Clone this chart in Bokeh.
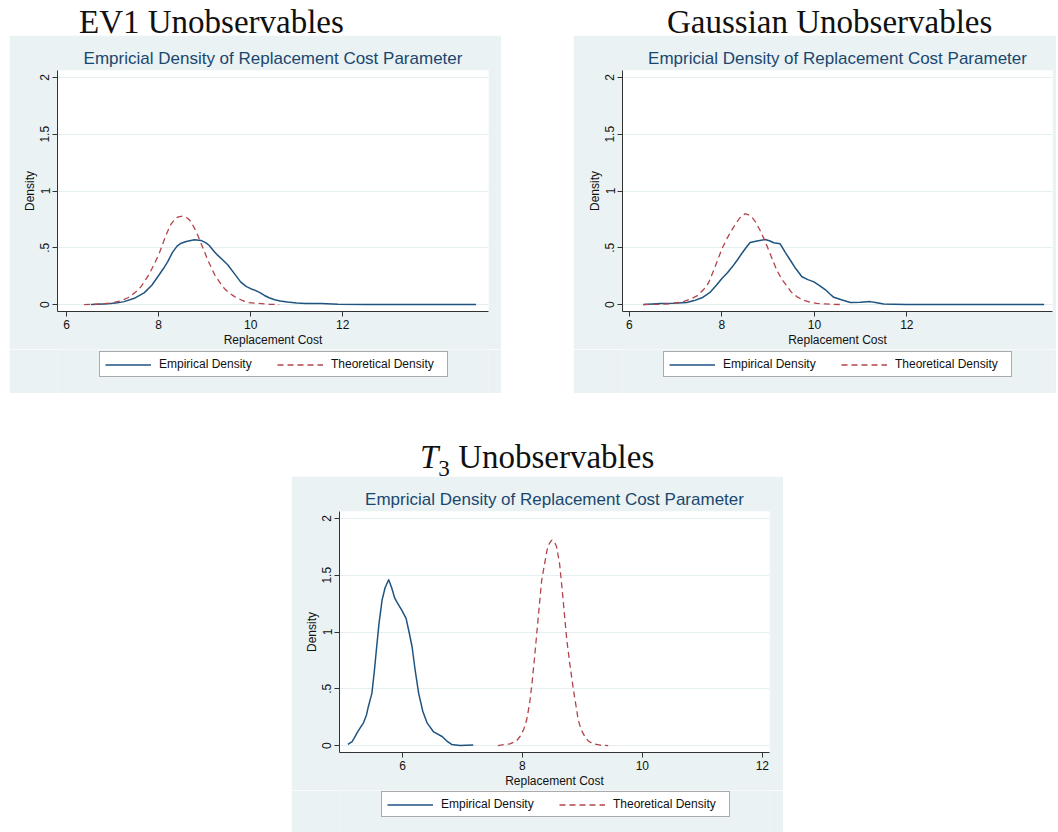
from bokeh.plotting import figure
from bokeh.layouts import column, row
from bokeh.models import Div, Spacer, FixedTicker, Legend, LegendItem, Range1d
from bokeh.embed import file_html
from bokeh.resources import INLINE

# ---- EV1 unobservables ----
ev1_emp_x = [6.53, 6.8, 6.96, 7.1, 7.25, 7.47, 7.69, 7.85, 7.98, 8.1, 8.2, 8.3, 8.4, 8.49,
             8.6, 8.7, 8.78, 8.92, 9.02, 9.1, 9.2, 9.28, 9.4, 9.5, 9.65, 9.78, 9.9, 10.0,
             10.1, 10.2, 10.3, 10.4, 10.52, 10.64, 10.8, 11.0, 11.2, 11.53, 11.9, 12.5, 13.5, 14.9]
ev1_emp_y = [0.0, 0.006, 0.01, 0.015, 0.026, 0.055, 0.105, 0.17, 0.245, 0.315, 0.38, 0.46, 0.515, 0.54,
             0.555, 0.565, 0.57, 0.565, 0.545, 0.52, 0.47, 0.435, 0.39, 0.35, 0.27, 0.2, 0.16, 0.14,
             0.125, 0.105, 0.08, 0.06, 0.043, 0.032, 0.022, 0.014, 0.01, 0.009, 0.003, 0.001, 0.0, 0.0]
ev1_th_x = [6.38, 6.7, 6.96, 7.15, 7.33, 7.5, 7.62, 7.78, 7.91, 8.02, 8.12, 8.2, 8.27, 8.35, 8.41,
            8.52, 8.63, 8.7, 8.78, 8.85, 8.92, 9.0, 9.07, 9.15, 9.22, 9.32, 9.43, 9.54, 9.65, 9.8,
            9.94, 10.1, 10.23, 10.4, 10.62]
ev1_th_y = [0.0, 0.004, 0.012, 0.03, 0.06, 0.11, 0.16, 0.26, 0.36, 0.46, 0.57, 0.65, 0.71, 0.75, 0.77,
            0.78, 0.76, 0.73, 0.67, 0.61, 0.54, 0.46, 0.39, 0.32, 0.26, 0.2, 0.14, 0.1, 0.07, 0.04,
            0.018, 0.012, 0.008, 0.003, 0.0]

# ---- Gaussian unobservables ----
gau_emp_x = [6.3, 6.5, 6.66, 6.95, 7.24, 7.4, 7.57, 7.75, 7.88, 8.0, 8.12, 8.22, 8.33, 8.43, 8.52,
             8.61, 8.76, 8.94, 9.04, 9.12, 9.26, 9.37, 9.48, 9.6, 9.73, 9.86, 9.99, 10.12, 10.24,
             10.33, 10.42, 10.6, 10.78, 11.0, 11.21, 11.35, 11.5, 11.7, 12.0, 14.97]
gau_emp_y = [0.0, 0.005, 0.01, 0.012, 0.018, 0.035, 0.06, 0.11, 0.17, 0.23, 0.28, 0.33, 0.39, 0.45, 0.5,
             0.547, 0.56, 0.573, 0.56, 0.544, 0.535, 0.46, 0.39, 0.315, 0.245, 0.22, 0.2, 0.165, 0.13,
             0.095, 0.064, 0.04, 0.018, 0.02, 0.026, 0.016, 0.006, 0.003, 0.0, 0.0]
gau_th_x = [6.3, 6.6, 6.88, 7.17, 7.3, 7.46, 7.6, 7.71, 7.85, 8.0, 8.12, 8.25, 8.38, 8.5, 8.58, 8.65,
            8.74, 8.83, 8.92, 9.01, 9.1, 9.19, 9.3, 9.41, 9.5, 9.62, 9.75, 9.91, 10.05, 10.2, 10.4, 10.63]
gau_th_y = [0.0, 0.002, 0.006, 0.026, 0.045, 0.076, 0.13, 0.19, 0.33, 0.49, 0.59, 0.68, 0.76, 0.80, 0.79,
            0.77, 0.72, 0.65, 0.57, 0.48, 0.39, 0.30, 0.22, 0.16, 0.11, 0.07, 0.04, 0.02, 0.01, 0.006,
            0.002, 0.0]

# ---- T3 unobservables ----
t3_emp_x = [5.09, 5.16, 5.2, 5.24, 5.3, 5.35, 5.4, 5.43, 5.46, 5.49, 5.53, 5.57, 5.61, 5.66, 5.71,
            5.77, 5.82, 5.87, 5.91, 5.99, 6.06, 6.11, 6.16, 6.21, 6.27, 6.34, 6.41, 6.52, 6.66,
            6.74, 6.82, 6.96, 7.18]
t3_emp_y = [0.01, 0.035, 0.07, 0.11, 0.16, 0.2, 0.27, 0.34, 0.4, 0.46, 0.65, 0.87, 1.08, 1.28, 1.39,
            1.46, 1.39, 1.3, 1.26, 1.19, 1.12, 1.0, 0.87, 0.67, 0.46, 0.3, 0.2, 0.12, 0.08,
            0.04, 0.01, 0.0, 0.005]
t3_th_x = [7.59, 7.79, 7.9, 7.96, 8.02, 8.07, 8.12, 8.16, 8.2, 8.24, 8.28, 8.32, 8.37, 8.41, 8.45,
           8.49, 8.53, 8.57, 8.62, 8.66, 8.7, 8.74, 8.8, 8.86, 8.9, 8.93, 8.98, 9.04, 9.1, 9.18,
           9.3, 9.43]
t3_th_y = [0.0, 0.015, 0.04, 0.08, 0.14, 0.225, 0.37, 0.55, 0.76, 0.99, 1.22, 1.45, 1.6, 1.72, 1.78,
           1.81, 1.8, 1.75, 1.6, 1.39, 1.16, 0.93, 0.68, 0.46, 0.33, 0.225, 0.14, 0.08, 0.04, 0.015,
           0.003, 0.0]

x_ticks = [6, 8, 10, 12]
y_ticks = [0, 0.5, 1, 1.5, 2]
y_tick_labels = ["0", ".5", "1", "1.5", "2"]

chart_title = "Empricial Density of Replacement Cost Parameter"
x_label = "Replacement Cost"
y_label = "Density"
series_names = ["Empirical Density", "Theoretical Density"]

BG = "#eaf2f3"
GRID = "#e6eff0"
NAVY = "#1f5380"
MAROON = "#b3434a"
AXIS = "#333333"
TITLE_BLUE = "#1a476f"
SANS = "Liberation Sans"
SERIF = "Liberation Serif"
EMP_STYLE = dict(line_color=NAVY, line_width=1.5, line_join="round")
TH_STYLE = dict(line_color=MAROON, line_width=1.3, line_dash="6 4")


def density_chart(emp_x, emp_y, th_x, th_y, x_lo, x_hi, width, height,
                  left, right, top, bottom):
    p = figure(width=width, height=height, output_backend="svg", toolbar_location=None,
               x_range=Range1d(x_lo, x_hi), y_range=Range1d(-0.061, 2.061),
               min_border_left=left, min_border_right=right,
               min_border_top=top, min_border_bottom=bottom,
               border_fill_color=BG, background_fill_color="white",
               outline_line_color=None, margin=0)
    p.title.text = chart_title
    p.title.align = "center"
    p.title.text_font = SANS
    p.title.text_font_size = "17px"
    p.title.text_font_style = "normal"
    p.title.text_color = TITLE_BLUE
    p.title.standoff = 5

    p.xgrid.visible = False
    p.ygrid.grid_line_color = GRID
    p.ygrid.grid_line_width = 1

    for ax in (p.xaxis[0], p.yaxis[0]):
        ax.axis_line_color = AXIS
        ax.major_tick_line_color = AXIS
        ax.minor_tick_line_color = None
        ax.major_tick_out = 5
        ax.major_tick_in = 0
        ax.major_label_text_font = SANS
        ax.major_label_text_font_size = "12px"
        ax.major_label_text_color = "#111111"
        ax.axis_label_text_font = SANS
        ax.axis_label_text_font_size = "12px"
        ax.axis_label_text_font_style = "normal"
        ax.axis_label_text_color = "#111111"

    p.xaxis[0].ticker = FixedTicker(ticks=x_ticks)
    p.xaxis[0].axis_label = x_label
    p.xaxis[0].major_label_standoff = 3
    p.xaxis[0].axis_label_standoff = 1

    p.yaxis[0].ticker = FixedTicker(ticks=y_ticks)
    p.yaxis[0].major_label_overrides = dict(zip(y_ticks, y_tick_labels))
    p.yaxis[0].major_label_orientation = "vertical"
    p.yaxis[0].axis_label = y_label
    p.yaxis[0].major_label_standoff = 3
    p.yaxis[0].axis_label_standoff = 1

    p.line(emp_x, emp_y, **EMP_STYLE)
    p.line(th_x, th_y, **TH_STYLE)
    return p


def legend_strip(width, height, legend_xy):
    # a frameless strip under the chart that carries the series key;
    # its frame lines up with the chart frame above it
    p = figure(width=width, height=height, output_backend="svg", toolbar_location=None,
               x_range=Range1d(0, 1), y_range=Range1d(0, 1),
               x_axis_location=None, y_axis_location=None,
               min_border=0, min_border_left=0, min_border_right=0,
               min_border_top=0, min_border_bottom=0,
               border_fill_color=BG, background_fill_color=BG,
               outline_line_color=None, margin=0)
    p.grid.visible = False
    # key glyphs only: their points lie outside the strip's ranges
    k_emp = p.line([5, 6], [5, 6], **EMP_STYLE)
    k_th = p.line([5, 6], [5, 6], **TH_STYLE)
    legend = Legend(items=[LegendItem(label=series_names[0], renderers=[k_emp]),
                           LegendItem(label=series_names[1], renderers=[k_th])],
                    orientation="horizontal", location=legend_xy,
                    label_text_font=SANS, label_text_font_size="12px",
                    label_text_color="#111111",
                    glyph_width=46, glyph_height=13, label_height=13,
                    label_width=111, label_standoff=8, spacing=7, padding=5,
                    margin=0, border_line_color="#555555", border_line_width=1,
                    background_fill_color="white", background_fill_alpha=1.0)
    p.add_layout(legend)
    return p


def header(html, width, height, pad_left, pad_top):
    return Div(text=html, width=width, height=height, margin=0,
               styles={"font-family": SERIF, "font-size": "33px", "line-height": "28px",
                       "color": "#111111", "padding-left": f"{pad_left}px",
                       "padding-top": f"{pad_top}px", "white-space": "nowrap",
                       "overflow": "visible"})


c1 = density_chart(ev1_emp_x, ev1_emp_y, ev1_th_x, ev1_th_y, 5.8, 15.17, 492, 314, 48, 13, 35, 37)
c2 = density_chart(gau_emp_x, gau_emp_y, gau_th_x, gau_th_y, 5.85, 15.15, 483, 314, 49, 4, 35, 37)
c3 = density_chart(t3_emp_x, t3_emp_y, t3_th_x, t3_th_y, 4.95, 12.12, 492, 314, 48, 14, 35, 37)

k1 = legend_strip(492, 44, (42, 16))
k2 = legend_strip(483, 44, (41, 16))
k3 = legend_strip(492, 42, (42, 15))

h1 = header("EV1 Unobservables", 492, 35, 70, 8)
h2 = header("Gaussian Unobservables", 483, 35, 94, 8)
h3 = header("<i>T</i><sub style='font-size:70%;line-height:0'>3</sub> Unobservables", 492, 36, 129, 3)

top_row = row(Spacer(width=9, height=393, margin=0), column(h1, c1, k1, spacing=0, margin=0),
              Spacer(width=72, height=393, margin=0), column(h2, c2, k2, spacing=0, margin=0),
              spacing=0, margin=0)
bottom_row = row(Spacer(width=291, height=392, margin=0), column(h3, c3, k3, spacing=0, margin=0),
                 spacing=0, margin=0)
page = column(top_row, Spacer(width=10, height=47, margin=0), bottom_row, spacing=0, margin=0)

html = file_html(page, INLINE, title="Replacement cost densities")
html = html.replace("<head>", "<head><style>html,body{margin:0;padding:0;background:#ffffff;}</style>", 1)
open("out.html", "w").write(html)
